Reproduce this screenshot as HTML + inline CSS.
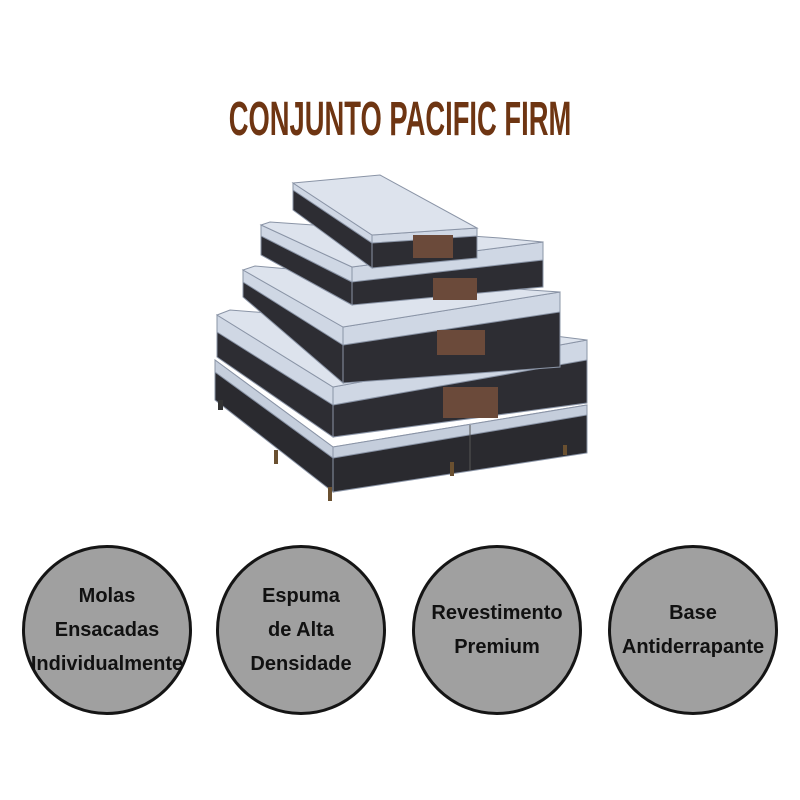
<!DOCTYPE html>
<html><head><style>
body{margin:0;width:800px;height:800px;background:#fff;position:relative;overflow:hidden;font-family:"Liberation Sans",Arial,sans-serif}
.t{position:absolute;top:92px;left:0;width:800px;text-align:center;font-size:48px;font-weight:bold;color:#6e3512;transform:scaleX(0.57);transform-origin:400px 0;font-family:"Liberation Sans Narrow","Liberation Sans",sans-serif}
.c{position:absolute;top:545px;width:164px;height:164px;border:3px solid #151515;border-radius:50%;background:#a0a0a0;display:flex;align-items:center;justify-content:center;text-align:center;font-weight:bold;font-size:20px;line-height:34px;color:#111}
</style></head><body>
<div class="t">CONJUNTO PACIFIC FIRM</div>
<svg width="800" height="800" style="position:absolute;left:0;top:0">
<g stroke="#8a94a6" stroke-width="1">
<polygon points="215,360 333,447 333,492 215,400" fill="#2a2a2f"/>
<polygon points="333,447 587,405 587,453 333,492" fill="#2a2a2f"/>
<polygon points="215,360 333,447 333,458 215,372" fill="#c5cedc"/>
<polygon points="333,447 587,405 587,415 333,458" fill="#c5cedc"/>
<line x1="470" y1="425" x2="470" y2="470" stroke="#555"/>
<polygon points="217,315 333,387 333,437 217,357" fill="#2d2d33"/>
<polygon points="333,387 587,340 587,403 333,437" fill="#2d2d33"/>
<polygon points="217,315 333,387 333,405 217,332" fill="#cfd7e4"/>
<polygon points="333,387 587,340 587,360 333,405" fill="#cfd7e4"/>
<polygon points="217,315 230,310 555,336 587,340 333,387" fill="#dde3ed"/>
<polygon points="243,270 343,327 343,383 243,297" fill="#2d2d33"/>
<polygon points="343,327 560,292 560,367 343,383" fill="#2d2d33"/>
<polygon points="243,270 343,327 343,345 243,282" fill="#cfd7e4"/>
<polygon points="343,327 560,292 560,312 343,345" fill="#cfd7e4"/>
<polygon points="243,270 255,266 530,290 560,292 343,327" fill="#dde3ed"/>
<polygon points="261,225 352,267 352,305 261,255" fill="#2d2d33"/>
<polygon points="352,267 543,242 543,287 352,305" fill="#2d2d33"/>
<polygon points="261,225 352,267 352,282 261,236" fill="#cfd7e4"/>
<polygon points="352,267 543,242 543,260 352,282" fill="#cfd7e4"/>
<polygon points="261,225 270,222 500,238 543,242 352,267" fill="#dde3ed"/>
<polygon points="293,183 372,235 372,268 293,210" fill="#2d2d33"/>
<polygon points="372,235 477,228 477,258 372,268" fill="#2d2d33"/>
<polygon points="293,183 372,235 372,243 293,190" fill="#cfd7e4"/>
<polygon points="372,235 477,228 477,236 372,243" fill="#cfd7e4"/>
<polygon points="293,183 380,175 477,228 372,235" fill="#dde3ed"/>
</g>
<rect x="413" y="235" width="40" height="23" fill="#6b4a3a"/>
<rect x="433" y="278" width="44" height="22" fill="#6b4a3a"/>
<rect x="437" y="330" width="48" height="25" fill="#6b4a3a"/>
<rect x="443" y="387" width="55" height="31" fill="#6b4a3a"/>
<rect x="274" y="450" width="4" height="14" fill="#6a5030"/>
<rect x="328" y="487" width="4" height="14" fill="#6a5030"/>
<rect x="450" y="462" width="4" height="14" fill="#6a5030"/>
<rect x="563" y="445" width="4" height="10" fill="#6a5030"/>
<rect x="218" y="400" width="5" height="10" fill="#333"/>
</svg>
<div class="c" style="left:22px">Molas<br>Ensacadas<br>Individualmente</div>
<div class="c" style="left:216px">Espuma<br>de Alta<br>Densidade</div>
<div class="c" style="left:412px">Revestimento<br>Premium</div>
<div class="c" style="left:608px">Base<br>Antiderrapante</div>
</body></html>
